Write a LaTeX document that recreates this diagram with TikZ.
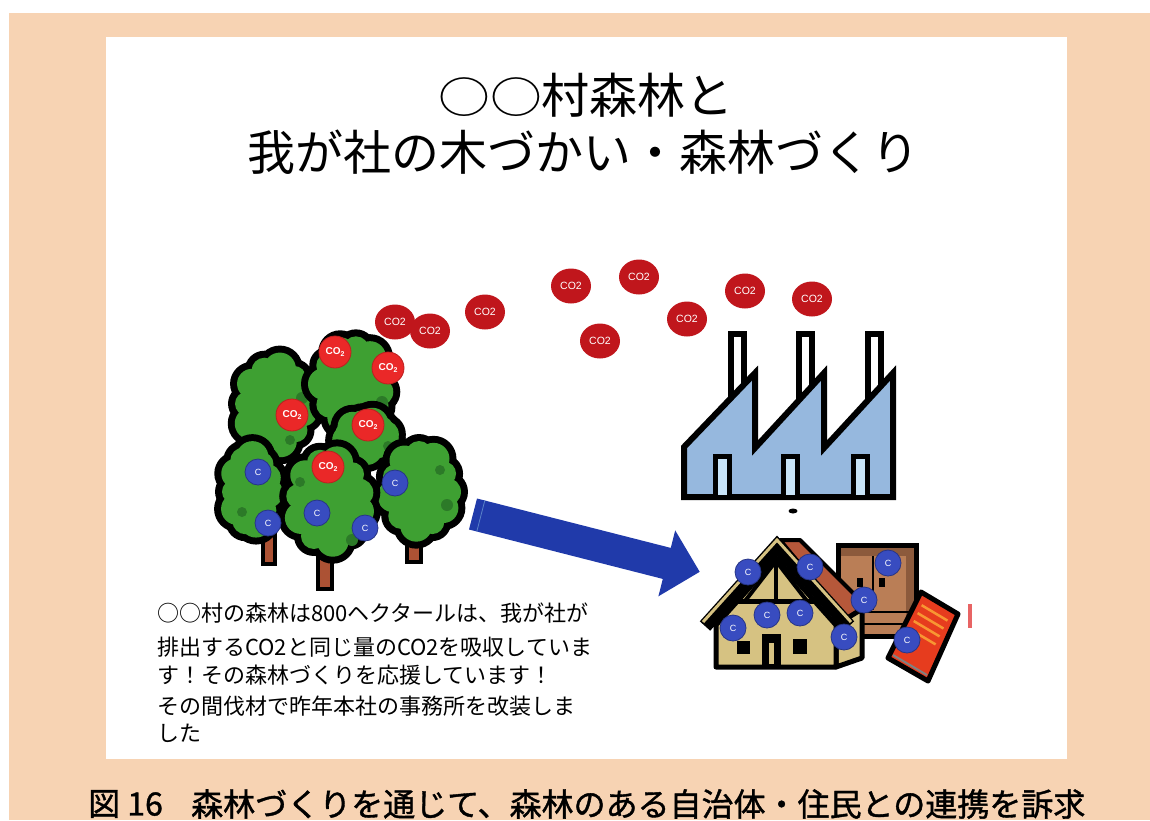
\documentclass[tikz,border=0pt]{standalone}
\usepackage{fontspec}
\usepackage{graphicx}
\newfontfamily\jp{Noto Sans CJK JP}
\newfontfamily\capfont{Noto Sans CJK JP}[FakeBold=1.2]
\newfontfamily\ballfont{Liberation Sans}
\usetikzlibrary{shapes.geometric}

\definecolor{frameorange}{RGB}{247,211,179}
\definecolor{leafgreen}{RGB}{62,160,50}
\definecolor{leafdark}{RGB}{44,122,40}
\definecolor{trunkbrown}{RGB}{172,82,52}
\definecolor{co2red}{RGB}{192,22,28}
\definecolor{co2bright}{RGB}{234,40,40}
\definecolor{cblue}{RGB}{56,76,192}
\definecolor{arrowblue}{RGB}{32,58,170}
\definecolor{arrowlight}{RGB}{90,130,200}
\definecolor{factoryblue}{RGB}{150,184,222}
\definecolor{doorblue}{RGB}{200,228,248}
\definecolor{housetan}{RGB}{214,194,130}
\definecolor{roofbrown}{RGB}{182,88,58}
\definecolor{cabinetbrown}{RGB}{186,126,86}
\definecolor{cabinetdark}{RGB}{140,90,60}
\definecolor{bookred}{RGB}{230,60,30}
\definecolor{bookorange}{RGB}{248,150,50}
\definecolor{markred}{RGB}{232,100,100}

\tikzset{
  skyco2/.style={ellipse, fill=co2red, minimum width=40pt, minimum height=35pt,
    inner sep=0pt, text=white, font=\ballfont\fontsize{10.5}{10.5}\selectfont},
  treeco2/.style={circle, fill=co2bright, draw=co2bright!80!black, line width=0.8pt,
    minimum size=32pt, inner sep=0pt, text=white,
    font=\ballfont\bfseries\fontsize{10}{10}\selectfont},
  cball/.style={circle, fill=cblue, draw=cblue!70!black, line width=0.8pt,
    minimum size=26pt, inner sep=0pt, text=white,
    font=\ballfont\fontsize{9}{9}\selectfont},
  thickline/.style={draw=black, line width=6pt, line join=miter},
  trunk/.style={draw=black, line width=3.5pt, fill=trunkbrown},
  bodytext/.style={anchor=west, inner sep=0pt, font=\jp\fontsize{22}{22}\selectfont},
  titletext/.style={inner sep=0pt, font=\jp\fontsize{48}{48}\selectfont},
  captiontext/.style={anchor=west, inner sep=0pt, font=\capfont\fontsize{32}{32}\selectfont},
}

% scalloped tree crown: centre, radii, bump scale, start angle, growth
\newcommand{\crownshape}[7]{%
  \fill (#1,#2) ellipse[x radius={#3+#7}, y radius={#4+#7}];
  \foreach \a/\b in {0/15,33/12,68/16,104/13,140/16,172/12,205/15,238/13,270/16,303/12,333/14}{
    \fill ({#1+#3*cos(\a+#6)},{#2+#4*sin(\a+#6)}) circle[radius={\b*#5+#7}];
  }%
}
\newcommand{\treecrown}[6]{%
  \begin{scope}[fill=black]\crownshape{#1}{#2}{#3}{#4}{#5}{#6}{7}\end{scope}
  \begin{scope}[fill=leafgreen]\crownshape{#1}{#2}{#3}{#4}{#5}{#6}{0}\end{scope}
}

\begin{document}
\begin{tikzpicture}[x=1pt, y=-1pt]
\useasboundingbox (0,0) rectangle (1150,820);

% page frame and slide
\fill[white] (0,0) rectangle (1150,820);
\fill[frameorange] (9,13) rectangle (1150,820);
\fill[white] (106,37) rectangle (1067,759);

% title
\node[titletext] (title1) at (586,95) {\scalebox{1.08}[0.9]{○○}村森林と};
\node[titletext] (title2) at (583,152) {我が社の木づかい・森林づくり};

% ---------- forest ----------
\treecrown{275}{405}{28}{37}{1}{10}
\fill[leafdark] (302,398) circle[radius=6];
\fill[leafdark] (290,440) circle[radius=5];
\treecrown{352}{384}{28}{35}{1}{40}
\fill[leafdark] (382,402) circle[radius=6];
\treecrown{366}{436}{19}{13}{1}{20}
\fill[leafdark] (388,446) circle[radius=5];
\draw[trunk] (263,525) rectangle (275,564);
\treecrown{251}{490}{17}{33}{1}{5}
\fill[leafdark] (242,512) circle[radius=5];
\draw[trunk] (407,525) rectangle (421,562);
\treecrown{420}{490}{27}{36}{1}{30}
\fill[leafdark] (447,505) circle[radius=6];
\fill[leafdark] (440,470) circle[radius=5];
\draw[trunk] (318,545) rectangle (332,589);
\treecrown{329}{501}{31}{40}{1}{15}
\fill[leafdark] (352,540) circle[radius=6];
\fill[leafdark] (300,482) circle[radius=5];

% carbon stored in the trees
\node[treeco2] (t1) at (335,352) {CO\raisebox{-0.35ex}{\fontsize{7}{7}\selectfont 2}};
\node[treeco2] (t2) at (388,368) {CO\raisebox{-0.35ex}{\fontsize{7}{7}\selectfont 2}};
\node[treeco2] (t3) at (292,415) {CO\raisebox{-0.35ex}{\fontsize{7}{7}\selectfont 2}};
\node[treeco2] (t4) at (368,425) {CO\raisebox{-0.35ex}{\fontsize{7}{7}\selectfont 2}};
\node[treeco2] (t5) at (328,467) {CO\raisebox{-0.35ex}{\fontsize{7}{7}\selectfont 2}};
\node[cball] (c1) at (258,472) {C};
\node[cball] (c2) at (395,483) {C};
\node[cball] (c3) at (317,513) {C};
\node[cball] (c4) at (268,523) {C};
\node[cball] (c5) at (365,528) {C};

% CO2 in the air
\node[skyco2] (s1) at (395,322) {CO2};
\node[skyco2] (s2) at (430,331) {CO2};
\node[skyco2] (s3) at (485,312) {CO2};
\node[skyco2] (s4) at (571,286) {CO2};
\node[skyco2] (s5) at (639,277) {CO2};
\node[skyco2] (s6) at (600,341) {CO2};
\node[skyco2] (s7) at (687,319) {CO2};
\node[skyco2] (s8) at (745,291) {CO2};
\node[skyco2] (s9) at (812,299) {CO2};

% ---------- factory ----------
\draw[line width=5.5pt, fill=white] (731,334) rectangle (744,420);
\draw[line width=5.5pt, fill=white] (799,334) rectangle (812,420);
\draw[line width=5.5pt, fill=white] (868,334) rectangle (881,420);
\draw[thickline, fill=factoryblue] (684,497) -- (684,447) -- (755,373) -- (755,448)
  -- (824,373) -- (824,448) -- (893,373) -- (893,497) -- cycle;
\draw[line width=5pt, fill=doorblue] (715,456) rectangle (729,497);
\draw[line width=5pt, fill=doorblue] (783,456) rectangle (797,497);
\draw[line width=5pt, fill=doorblue] (853,456) rectangle (867,497);
\fill (793,511) ellipse[x radius=4.5, y radius=2.5];

% ---------- block arrow ----------
\fill[arrowblue] (477,498.5) -- (670.8,547.9) -- (675.2,530.4) -- (699.7,571.8)
  -- (658.4,596.3) -- (662.8,578.9) -- (469,529.5) -- cycle;
\draw[arrowlight, line width=0.8pt] (484.8,500.5) -- (476.8,531.5);

% ---------- cabinet ----------
\draw[line width=5pt, fill=cabinetbrown] (838,545) rectangle (916,636);
\fill[cabinetdark] (840.5,547.5) rectangle (913.5,556);
\fill[cabinetdark] (906,556) rectangle (913.5,633.5);
\draw[line width=1.5pt] (873,556) -- (873,610);
\fill (857,578) rectangle (863,587);
\fill (879,578) rectangle (885,587);
\draw[line width=2.5pt] (840,612) -- (914,612);
\draw[line width=2.5pt] (840,624) -- (914,624);

% ---------- house ----------
\draw[line width=4pt, fill=roofbrown, line join=round] (780,540) -- (800,540) -- (867,607) -- (850,624) -- cycle;
\draw[line width=5pt, fill=housetan, line join=round] (836,625) -- (862,609) -- (862,658) -- (836,667) -- cycle;
\draw[line width=5pt, fill=housetan, line join=round] (716,625) -- (776,558) -- (836,625) -- (836,667) -- (716,667) -- cycle;
\draw[line width=14pt, line join=miter] (705,626) -- (777,546) -- (849,626);
\draw[housetan, line width=3pt, line join=miter] (703,622) -- (777,540) -- (851,622);
\draw[line width=4pt] (745,601) -- (776,561) -- (807,601);
\draw[line width=4pt] (776,561) -- (776,601);
\draw[line width=5pt] (733,601) -- (820,601);
\fill (737,641) rectangle (750,654);
\fill (793,639) rectangle (807,654);
\fill (762,634) rectangle (781,667);
\fill[housetan] (769,643) rectangle (774,664);

% ---------- book ----------
\draw[line width=5pt, fill=bookred, line join=round] (921,592) -- (958,614) -- (928,681) -- (888,658) -- cycle;
\draw[gray, line width=2pt] (893,655) -- (927,675);
\draw[bookorange, line width=2.5pt] (921.6,605.2) -- (947.5,620.6);
\draw[bookorange, line width=2.5pt] (917.6,613.1) -- (943.5,628.5);
\draw[bookorange, line width=2.5pt] (913.7,621.0) -- (939.6,636.4);
\draw[bookorange, line width=2.5pt] (909.7,629.0) -- (935.6,644.4);
\fill[markred] (968,604) rectangle (972,628);

% carbon stored in the wooden building
\node[cball] (h1) at (748,572) {C};
\node[cball] (h2) at (810,567) {C};
\node[cball] (h3) at (888,563) {C};
\node[cball] (h4) at (864,600) {C};
\node[cball] (h5) at (767,615) {C};
\node[cball] (h6) at (800,613) {C};
\node[cball] (h7) at (733,628) {C};
\node[cball] (h8) at (844,637) {C};
\node[cball] (h9) at (907,640) {C};

% ---------- explanation ----------
\node[bodytext] (l1) at (157,613) {○○村の森林は800ヘクタールは、我が社が};
\node[bodytext] (l2) at (157,647) {排出するCO2と同じ量のCO2を吸収していま};
\node[bodytext] (l3) at (157,675) {す！その森林づくりを応援しています！};
\node[bodytext] (l4) at (157,706) {その間伐材で昨年本社の事務所を改装しま};
\node[bodytext] (l5) at (157,733) {した};

% ---------- caption ----------
\node[captiontext] (cap1) at (88,804) {図 16};
\node[captiontext] (cap2) at (191,804) {森林づくりを通じて、森林のある自治体・住民との連携を訴求};
\end{tikzpicture}
\end{document}
